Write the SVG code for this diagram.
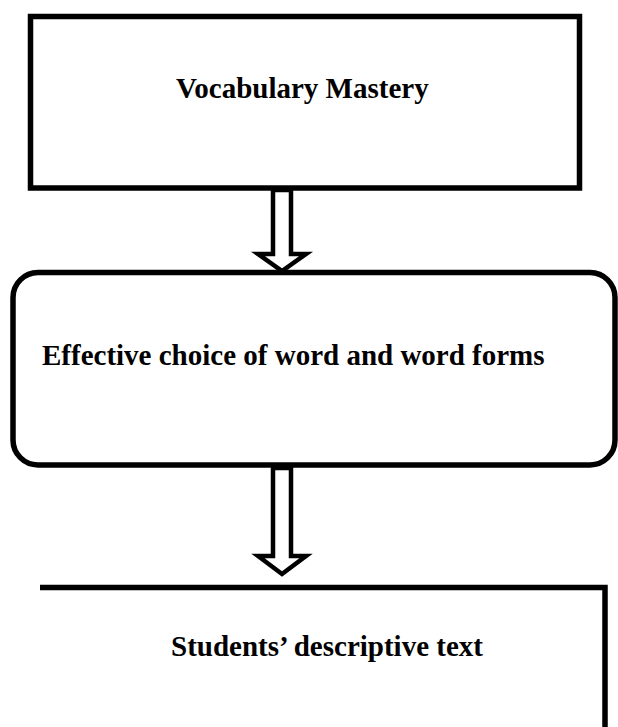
<svg xmlns="http://www.w3.org/2000/svg" width="618" height="727" viewBox="0 0 618 727">
<style>
.box{fill:#fff;stroke:#000;stroke-width:5.5}
.lbl{font-family:"Liberation Serif","Times New Roman",serif;font-weight:bold;font-size:29px;fill:#000}
.arr{fill:#fff;stroke:#000;stroke-width:4.5;stroke-linejoin:miter;stroke-miterlimit:10}
</style>
<rect width="618" height="727" fill="#fff"/>
<g id="node-vocabulary">
<rect class="box" x="30.5" y="16.5" width="549" height="171.5"/>
<text class="lbl" x="176" y="98">Vocabulary Mastery</text>
</g>
<g id="node-effective">
<rect class="box" x="13" y="272.5" width="602" height="192.5" rx="25" ry="25"/>
<text class="lbl" x="42" y="365">Effective choice of word and word forms</text>
</g>
<g id="node-students">
<path class="box" d="M40 587.5 H605 V732" fill="none"/>
<text class="lbl" x="171" y="656">Students’ descriptive text</text>
</g>
<g id="connectors">
<polygon class="arr" points="273,190 273,254 258,254 282,271 306,254 291,254 291,190"/>
<polygon class="arr" points="273,468 273,556 258,556 282,574 306,556 291,556 291,468"/>
</g>
</svg>
